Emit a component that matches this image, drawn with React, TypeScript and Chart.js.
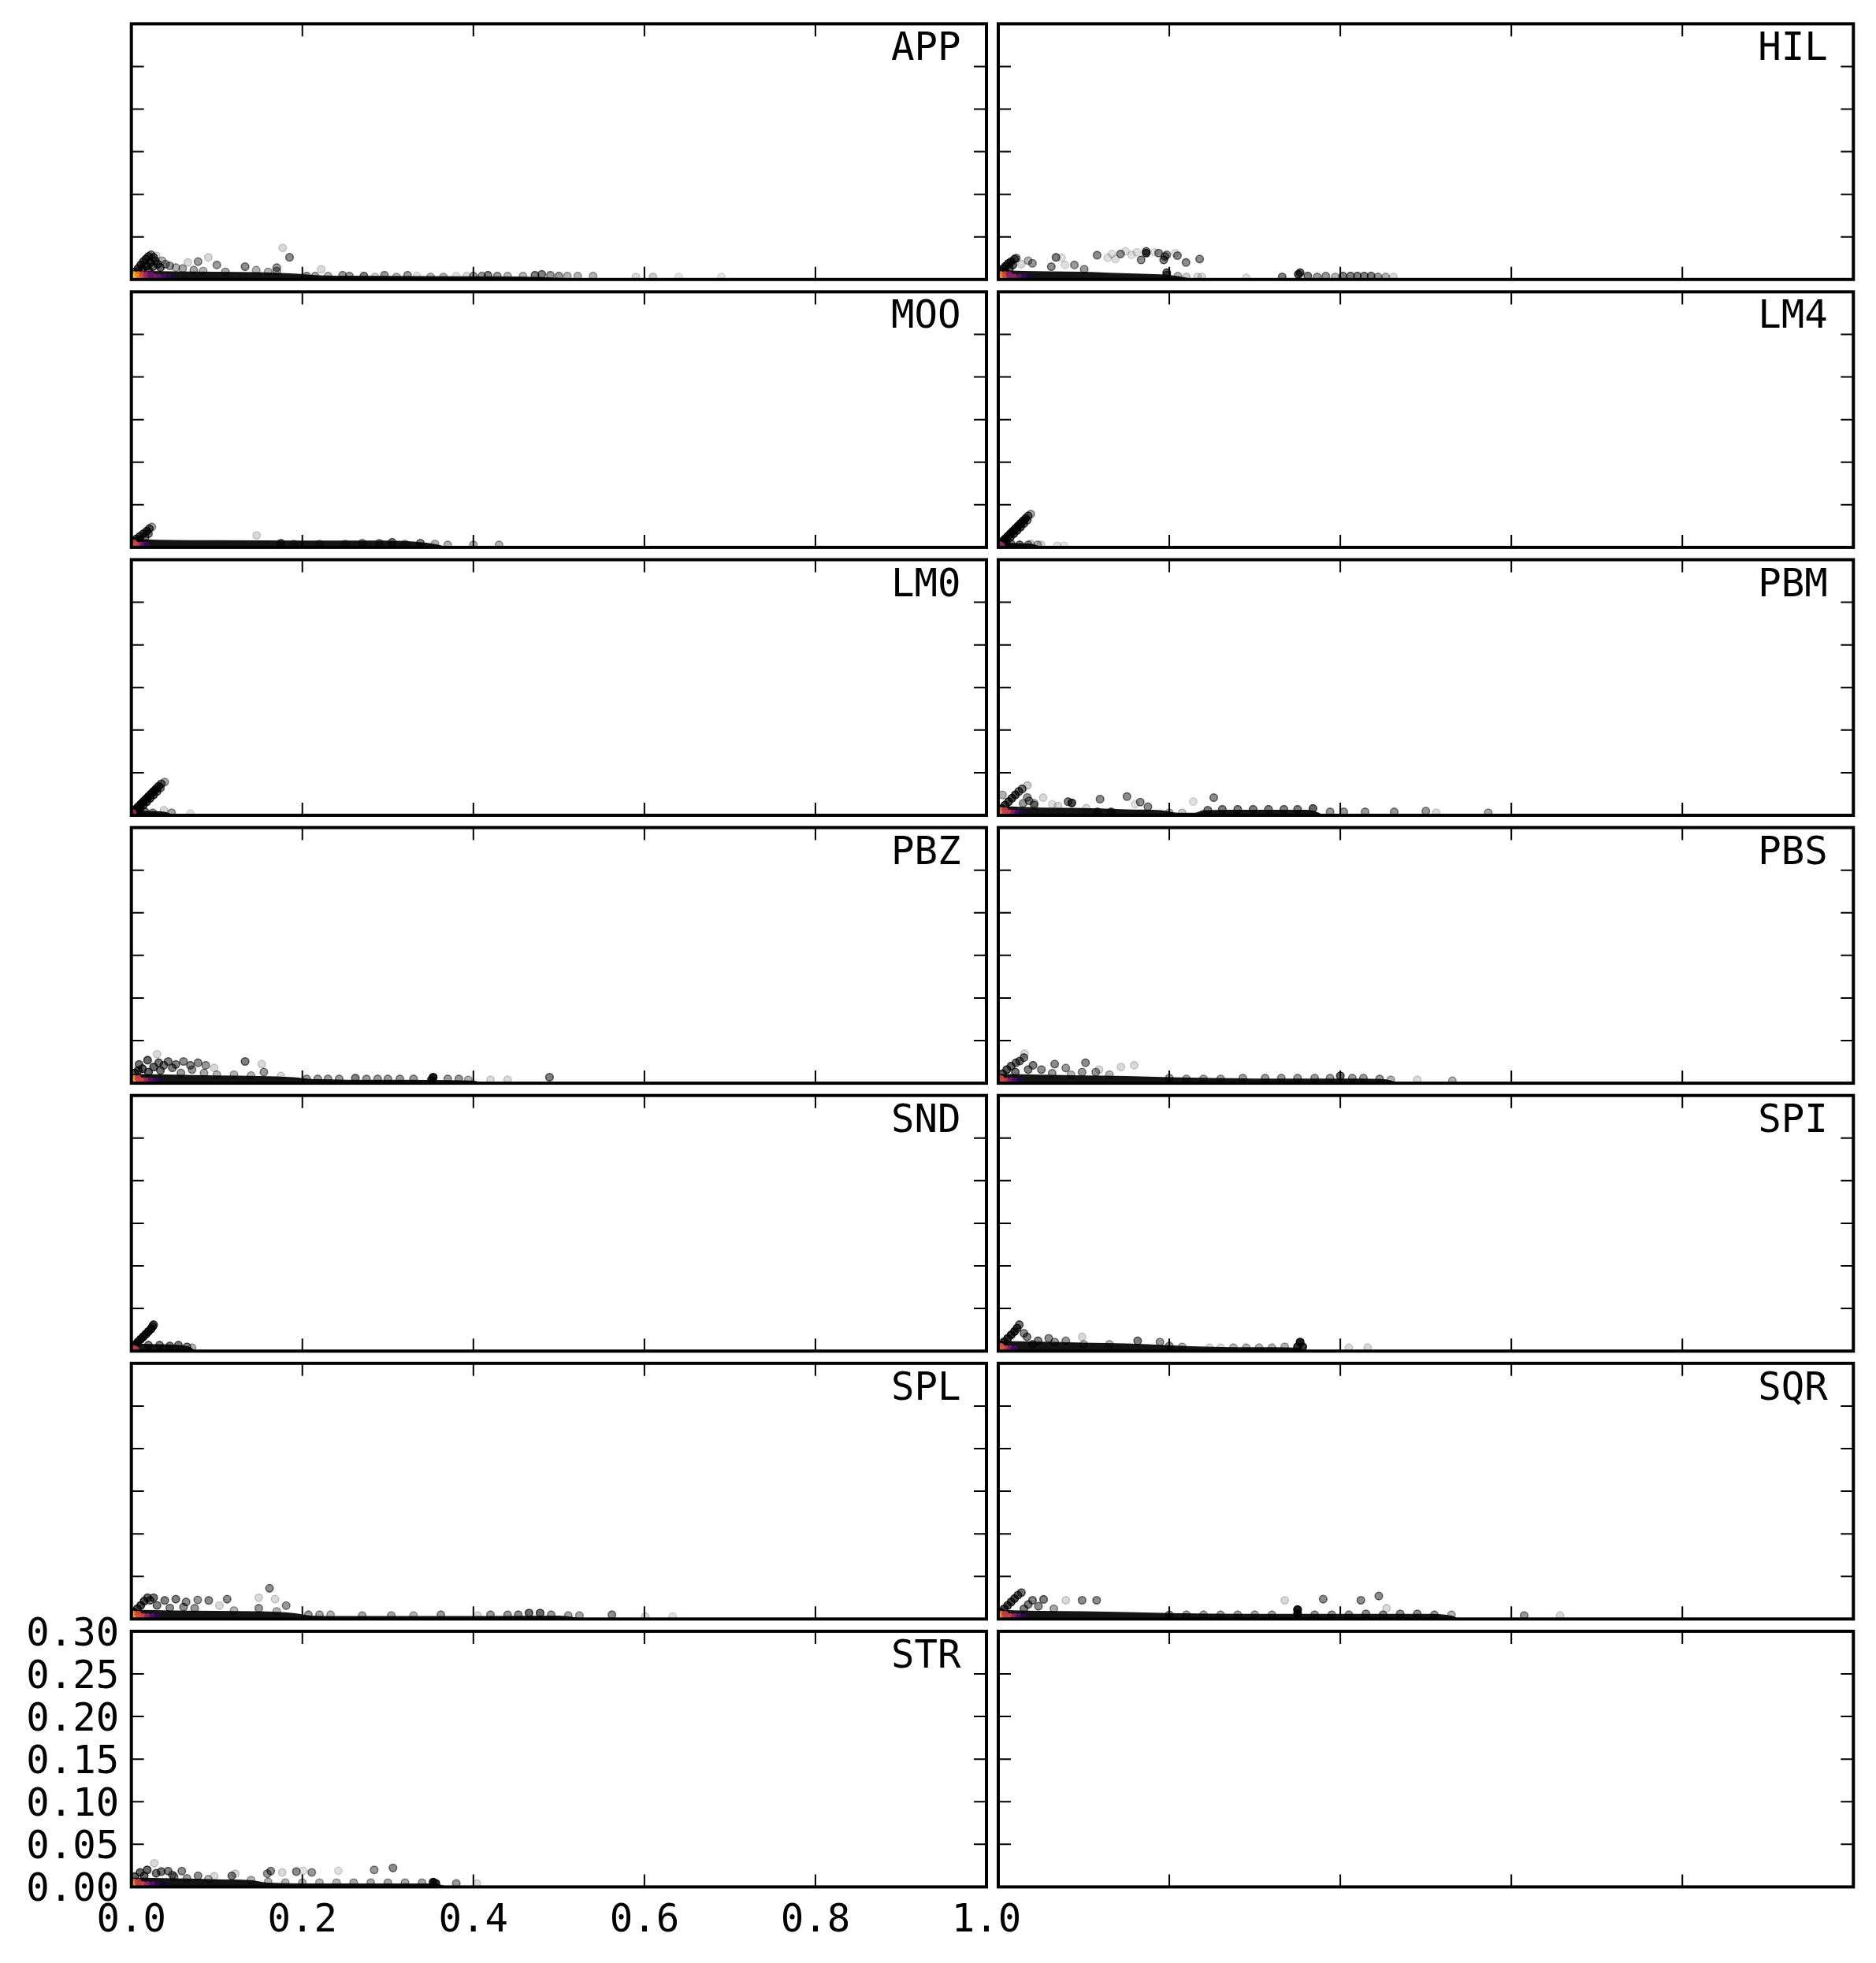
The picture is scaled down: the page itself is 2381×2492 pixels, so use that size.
import React, { useEffect, useRef } from 'react';
import { Chart, registerables } from 'chart.js';
Chart.register(...registerables);

// ---------- axes ----------
const X_TICKS = [0, 0.2, 0.4, 0.6, 0.8, 1.0];
const X_TICK_LABELS = ['0.0', '0.2', '0.4', '0.6', '0.8', '1.0'];
const Y_TICKS = [0, 0.05, 0.1, 0.15, 0.2, 0.25, 0.3];
const Y_TICK_LABELS = ['0.00', '0.05', '0.10', '0.15', '0.20', '0.25', '0.30'];
const PANEL_NAMES = ['APP', 'HIL', 'MOO', 'LM4', 'LM0', 'PBM', 'PBZ', 'PBS', 'SND', 'SPI', 'SPL', 'SQR', 'STR', ''];

// ---------- data: [x, y, alpha] points, [x, top] dense band, [x, y, density] hot points ----------
const APP_BAND = [[0, 0.011], [0.02, 0.010], [0.05, 0.0095], [0.10, 0.009], [0.15, 0.0085], [0.19, 0.007], [0.22, 0.005], [0.26, 0.0045], [0.35, 0.004], [0.45, 0.0035], [0.50, 0.002], [0.53, 0]];
const APP_POINTS = [
  [0.004, 0.009, 0.7], [0.008, 0.013, 0.7], [0.011, 0.017, 0.7], [0.014, 0.021, 0.7], [0.017, 0.024, 0.7], [0.020, 0.027, 0.65], [0.023, 0.029, 0.5], [0.026, 0.026, 0.6], [0.028, 0.022, 0.6], [0.031, 0.018, 0.6], [0.034, 0.014, 0.6], [0.013, 0.012, 0.7], [0.018, 0.016, 0.7], [0.022, 0.020, 0.7], [0.025, 0.015, 0.6], [0.020, 0.011, 0.6],
  [0.177, 0.037, 0.15], [0.185, 0.026, 0.45], [0.090, 0.026, 0.15], [0.078, 0.021, 0.4], [0.100, 0.017, 0.4], [0.133, 0.015, 0.45], [0.066, 0.020, 0.15], [0.040, 0.018, 0.4], [0.045, 0.016, 0.4], [0.060, 0.013, 0.35], [0.073, 0.011, 0.35], [0.084, 0.010, 0.3], [0.170, 0.014, 0.4], [0.170, 0.010, 0.4], [0.222, 0.012, 0.15], [0.029, 0.028, 0.15], [0.110, 0.009, 0.35], [0.036, 0.022, 0.3], [0.052, 0.014, 0.3], [0.146, 0.011, 0.3], [0.160, 0.009, 0.3],
  [0.205, 0.004, 0.4], [0.215, 0.004, 0.35], [0.230, 0.004, 0.3], [0.247, 0.005, 0.4], [0.255, 0.004, 0.4], [0.272, 0.004, 0.5], [0.285, 0.003, 0.2], [0.296, 0.005, 0.4], [0.310, 0.003, 0.3], [0.323, 0.005, 0.4], [0.334, 0.004, 0.12], [0.350, 0.003, 0.3], [0.365, 0.003, 0.3], [0.380, 0.004, 0.12], [0.392, 0.004, 0.15], [0.400, 0.004, 0.4], [0.410, 0.004, 0.4], [0.417, 0.005, 0.5], [0.428, 0.004, 0.4], [0.440, 0.004, 0.3], [0.458, 0.004, 0.3], [0.472, 0.005, 0.5], [0.480, 0.006, 0.5], [0.490, 0.005, 0.4], [0.500, 0.004, 0.4], [0.510, 0.004, 0.3], [0.522, 0.004, 0.3], [0.540, 0.004, 0.3], [0.590, 0.003, 0.15], [0.610, 0.003, 0.2], [0.640, 0.003, 0.1], [0.690, 0.003, 0.1],
];
const APP_HOT = [[0.002, 0.0025, 1.0], [0.006, 0.0025, 0.92], [0.010, 0.0025, 0.82], [0.014, 0.0025, 0.72], [0.018, 0.0025, 0.6], [0.022, 0.0025, 0.5], [0.027, 0.0025, 0.4], [0.032, 0.0025, 0.3], [0.038, 0.0025, 0.22], [0.044, 0.0025, 0.15], [0.050, 0.0025, 0.1], [0.003, 0.0055, 0.85], [0.008, 0.0055, 0.72], [0.013, 0.0055, 0.55], [0.018, 0.0055, 0.4], [0.023, 0.0055, 0.28]];

const HIL_BAND = [[0, 0.011], [0.03, 0.010], [0.06, 0.0095], [0.10, 0.009], [0.13, 0.008], [0.16, 0.007], [0.19, 0.006], [0.21, 0.004], [0.23, 0]];
const HIL_POINTS = [
  [0.003, 0.010, 0.7], [0.006, 0.013, 0.7], [0.009, 0.016, 0.7], [0.012, 0.019, 0.7], [0.015, 0.021, 0.7], [0.019, 0.024, 0.6], [0.021, 0.025, 0.5], [0.008, 0.009, 0.7], [0.013, 0.013, 0.6], [0.017, 0.017, 0.6],
  [0.035, 0.022, 0.3], [0.040, 0.019, 0.4], [0.0675, 0.026, 0.5], [0.074, 0.0255, 0.12], [0.062, 0.015, 0.45], [0.078, 0.017, 0.12], [0.089, 0.017, 0.4], [0.1005, 0.012, 0.4], [0.1155, 0.0285, 0.45], [0.128, 0.0255, 0.12], [0.133, 0.030, 0.12], [0.137, 0.024, 0.12], [0.143, 0.030, 0.45], [0.149, 0.033, 0.12], [0.156, 0.029, 0.12], [0.162, 0.032, 0.12], [0.173, 0.031, 0.7], [0.173, 0.033, 0.5], [0.167, 0.023, 0.45], [0.183, 0.032, 0.12], [0.1875, 0.031, 0.45], [0.195, 0.027, 0.5], [0.197, 0.029, 0.4], [0.1935, 0.023, 0.5], [0.207, 0.031, 0.12], [0.2095, 0.028, 0.45], [0.2195, 0.020, 0.45], [0.2355, 0.024, 0.45], [0.027, 0.018, 0.15],
  [0.233, 0.003, 0.15], [0.238, 0.003, 0.15], [0.197, 0.008, 0.6], [0.197, 0.005, 0.5], [0.21, 0.004, 0.3], [0.22, 0.003, 0.2], [0.29, 0.002, 0.12], [0.332, 0.003, 0.5], [0.351, 0.006, 0.7], [0.353, 0.008, 0.6], [0.362, 0.004, 0.5], [0.373, 0.003, 0.4], [0.383, 0.004, 0.4], [0.394, 0.003, 0.3], [0.403, 0.004, 0.5], [0.412, 0.004, 0.5], [0.420, 0.004, 0.5], [0.428, 0.004, 0.5], [0.436, 0.004, 0.5], [0.444, 0.003, 0.4], [0.453, 0.003, 0.3], [0.462, 0.003, 0.15],
];
const HIL_HOT = [[0.002, 0.0025, 1.0], [0.006, 0.0025, 0.88], [0.010, 0.0025, 0.72], [0.014, 0.0025, 0.55], [0.019, 0.0025, 0.4], [0.025, 0.0025, 0.28], [0.031, 0.0025, 0.18], [0.037, 0.0025, 0.1], [0.003, 0.0055, 0.75], [0.008, 0.0055, 0.55], [0.013, 0.0055, 0.35]];

const MOO_BAND = [[0, 0.010], [0.03, 0.009], [0.10, 0.0085], [0.20, 0.008], [0.30, 0.008], [0.34, 0.006], [0.36, 0.003], [0.37, 0]];
const MOO_POINTS = [
  [0.003, 0.007, 0.7], [0.006, 0.010, 0.7], [0.010, 0.013, 0.7], [0.014, 0.016, 0.7], [0.018, 0.019, 0.7], [0.021, 0.022, 0.6], [0.024, 0.024, 0.35], [0.010, 0.008, 0.6], [0.016, 0.012, 0.5], [0.020, 0.016, 0.5],
  [0.1465, 0.014, 0.15],
  [0.175, 0.005, 0.5], [0.190, 0.004, 0.3], [0.220, 0.004, 0.3], [0.250, 0.004, 0.3], [0.270, 0.005, 0.4], [0.290, 0.005, 0.4], [0.305, 0.006, 0.5], [0.320, 0.004, 0.3], [0.338, 0.005, 0.5], [0.355, 0.004, 0.3], [0.370, 0.003, 0.3], [0.400, 0.003, 0.3], [0.430, 0.003, 0.3],
];
const MOO_HOT = [[0.002, 0.0025, 0.78], [0.006, 0.0025, 0.62], [0.010, 0.0025, 0.45], [0.014, 0.0025, 0.3], [0.018, 0.0025, 0.18], [0.003, 0.005, 0.55]];

const LM4_BAND = [[0, 0.006], [0.02, 0.005], [0.04, 0.004], [0.05, 0]];
const LM4_POINTS = [
  [0.002, 0.004, 0.8], [0.005, 0.007, 0.8], [0.008, 0.010, 0.8], [0.011, 0.013, 0.8], [0.014, 0.016, 0.8], [0.017, 0.019, 0.8], [0.020, 0.022, 0.8], [0.023, 0.025, 0.8], [0.026, 0.028, 0.8], [0.029, 0.031, 0.75], [0.032, 0.034, 0.7], [0.035, 0.037, 0.55], [0.038, 0.039, 0.35],
  [0.006, 0.005, 0.7], [0.010, 0.008, 0.7], [0.014, 0.012, 0.7], [0.018, 0.016, 0.7], [0.022, 0.020, 0.7], [0.026, 0.024, 0.7], [0.030, 0.028, 0.6], [0.034, 0.032, 0.5],
  [0.008, 0.004, 0.6], [0.015, 0.004, 0.5], [0.025, 0.003, 0.5], [0.035, 0.003, 0.4], [0.038, 0.004, 0.2], [0.046, 0.003, 0.3], [0.050, 0.003, 0.15], [0.069, 0.002, 0.12], [0.077, 0.002, 0.1],
];
const LM4_HOT = [[0.002, 0.003, 0.45], [0.004, 0.002, 0.4]];

const LM0_BAND = [[0, 0.006], [0.02, 0.005], [0.04, 0.004], [0.05, 0]];
const LM0_POINTS = [
  [0.002, 0.004, 0.8], [0.005, 0.007, 0.8], [0.008, 0.010, 0.8], [0.011, 0.013, 0.8], [0.014, 0.016, 0.8], [0.017, 0.019, 0.8], [0.020, 0.022, 0.8], [0.023, 0.025, 0.8], [0.026, 0.028, 0.8], [0.029, 0.031, 0.75], [0.032, 0.034, 0.7], [0.035, 0.037, 0.55], [0.039, 0.039, 0.35],
  [0.006, 0.005, 0.7], [0.010, 0.008, 0.7], [0.014, 0.012, 0.7], [0.018, 0.016, 0.7], [0.022, 0.020, 0.7], [0.026, 0.024, 0.7], [0.030, 0.028, 0.6], [0.034, 0.032, 0.5],
  [0.008, 0.004, 0.6], [0.016, 0.004, 0.5], [0.025, 0.003, 0.4], [0.038, 0.006, 0.15], [0.047, 0.003, 0.35], [0.069, 0.002, 0.12],
];
const LM0_HOT = [[0.002, 0.003, 0.42]];

const PBM_BAND = [[0, 0.011], [0.05, 0.009], [0.10, 0.0085], [0.15, 0.007], [0.19, 0.006], [0.21, 0.003], [0.23, 0.003], [0.24, 0.006], [0.30, 0.0065], [0.36, 0.0065], [0.375, 0.003], [0.38, 0]];
const PBM_POINTS = [
  [0.004, 0.008, 0.7], [0.008, 0.012, 0.7], [0.012, 0.016, 0.7], [0.016, 0.020, 0.7], [0.020, 0.024, 0.7], [0.024, 0.028, 0.6], [0.028, 0.031, 0.55], [0.034, 0.035, 0.2],
  [0.005, 0.024, 0.3], [0.034, 0.021, 0.4], [0.036, 0.017, 0.45], [0.029, 0.014, 0.4], [0.0525, 0.0207, 0.15], [0.063, 0.013, 0.12], [0.042, 0.012, 0.4], [0.042, 0.014, 0.35], [0.0816, 0.016, 0.5], [0.086, 0.0145, 0.7], [0.103, 0.0084, 0.15], [0.119, 0.019, 0.45], [0.1505, 0.022, 0.45], [0.166, 0.0155, 0.45], [0.175, 0.010, 0.45], [0.160, 0.013, 0.12], [0.228, 0.016, 0.12], [0.252, 0.0207, 0.45], [0.070, 0.011, 0.15], [0.116, 0.004, 0.5], [0.132, 0.004, 0.5],
  [0.245, 0.006, 0.5], [0.262, 0.007, 0.5], [0.280, 0.007, 0.5], [0.298, 0.007, 0.5], [0.316, 0.007, 0.5], [0.334, 0.007, 0.5], [0.350, 0.007, 0.5],
  [0.368, 0.008, 0.6], [0.200, 0.003, 0.3], [0.215, 0.003, 0.2], [0.388, 0.004, 0.4], [0.404, 0.004, 0.4], [0.429, 0.004, 0.4], [0.463, 0.004, 0.4], [0.500, 0.005, 0.4], [0.512, 0.003, 0.15], [0.573, 0.003, 0.35],
];
const PBM_HOT = [[0.002, 0.0025, 1.0], [0.006, 0.0025, 0.85], [0.010, 0.0025, 0.7], [0.014, 0.0025, 0.52], [0.018, 0.0025, 0.36], [0.023, 0.0025, 0.22], [0.028, 0.0025, 0.12], [0.003, 0.0055, 0.7], [0.008, 0.0055, 0.5]];

const PBZ_BAND = [[0, 0.011], [0.05, 0.010], [0.10, 0.009], [0.15, 0.0085], [0.19, 0.007], [0.21, 0.005], [0.30, 0.004], [0.40, 0.003], [0.41, 0]];
const PBZ_POINTS = [
  [0.009, 0.022, 0.55], [0.019, 0.027, 0.6], [0.032, 0.024, 0.55], [0.043, 0.0255, 0.5], [0.052, 0.022, 0.5], [0.061, 0.0255, 0.45], [0.069, 0.021, 0.45], [0.078, 0.024, 0.45], [0.087, 0.021, 0.4], [0.048, 0.018, 0.5], [0.026, 0.019, 0.6], [0.071, 0.016, 0.4], [0.097, 0.018, 0.15], [0.030, 0.034, 0.15], [0.013, 0.017, 0.65], [0.004, 0.012, 0.65], [0.008, 0.015, 0.65], [0.038, 0.021, 0.5], [0.058, 0.012, 0.4], [0.085, 0.012, 0.35], [0.100, 0.010, 0.3], [0.020, 0.013, 0.6], [0.034, 0.015, 0.55],
  [0.133, 0.0255, 0.5], [0.1525, 0.0224, 0.15], [0.155, 0.013, 0.4], [0.175, 0.0086, 0.15], [0.120, 0.010, 0.3], [0.140, 0.009, 0.3],
  [0.205, 0.005, 0.4], [0.218, 0.005, 0.4], [0.230, 0.005, 0.4], [0.243, 0.005, 0.4], [0.262, 0.006, 0.5], [0.275, 0.005, 0.4], [0.288, 0.005, 0.4], [0.300, 0.005, 0.4], [0.314, 0.005, 0.4], [0.330, 0.005, 0.4], [0.353, 0.007, 0.9], [0.351, 0.004, 0.7], [0.370, 0.005, 0.4], [0.383, 0.005, 0.4], [0.394, 0.004, 0.3], [0.420, 0.004, 0.15], [0.440, 0.004, 0.15], [0.489, 0.007, 0.5],
];
const PBZ_HOT = [[0.002, 0.0025, 1.0], [0.006, 0.0025, 0.88], [0.010, 0.0025, 0.74], [0.014, 0.0025, 0.58], [0.018, 0.0025, 0.42], [0.023, 0.0025, 0.28], [0.029, 0.0025, 0.18], [0.035, 0.0025, 0.1], [0.003, 0.0055, 0.75], [0.008, 0.0055, 0.52]];

const PBS_BAND = [[0, 0.011], [0.05, 0.010], [0.10, 0.009], [0.15, 0.0085], [0.20, 0.007], [0.25, 0.006], [0.30, 0.0055], [0.40, 0.0055], [0.45, 0.005], [0.47, 0]];
const PBS_POINTS = [
  [0.0207, 0.024, 0.55], [0.030, 0.030, 0.5], [0.0307, 0.0347, 0.15], [0.0406, 0.021, 0.5], [0.066, 0.0224, 0.45], [0.079, 0.0178, 0.4], [0.102, 0.024, 0.45], [0.118, 0.016, 0.15], [0.1435, 0.019, 0.15], [0.159, 0.021, 0.15], [0.114, 0.013, 0.4], [0.098, 0.013, 0.4], [0.0504, 0.016, 0.45], [0.063, 0.0117, 0.4], [0.010, 0.016, 0.65], [0.015, 0.020, 0.6], [0.025, 0.026, 0.55], [0.005, 0.011, 0.65], [0.020, 0.013, 0.55], [0.035, 0.016, 0.5], [0.085, 0.010, 0.3], [0.130, 0.010, 0.3],
  [0.200, 0.006, 0.4], [0.220, 0.005, 0.35], [0.240, 0.005, 0.35], [0.260, 0.005, 0.35], [0.286, 0.006, 0.4], [0.312, 0.006, 0.4], [0.331, 0.006, 0.4], [0.350, 0.006, 0.4], [0.370, 0.006, 0.4], [0.388, 0.006, 0.4], [0.400, 0.0086, 0.6], [0.414, 0.006, 0.4], [0.427, 0.006, 0.4], [0.446, 0.005, 0.4], [0.459, 0.004, 0.3], [0.490, 0.004, 0.15], [0.531, 0.003, 0.3],
];
const PBS_HOT = [[0.002, 0.0025, 0.8], [0.006, 0.0025, 0.65], [0.010, 0.0025, 0.5], [0.015, 0.0025, 0.35], [0.020, 0.0025, 0.22], [0.026, 0.0025, 0.12], [0.003, 0.0055, 0.55]];

const SND_BAND = [[0, 0.009], [0.03, 0.008], [0.06, 0.007], [0.07, 0.004], [0.075, 0]];
const SND_POINTS = [
  [0.002, 0.005, 0.8], [0.005, 0.008, 0.8], [0.008, 0.011, 0.8], [0.011, 0.014, 0.8], [0.014, 0.017, 0.8], [0.017, 0.020, 0.8], [0.020, 0.023, 0.8], [0.023, 0.026, 0.8], [0.025, 0.029, 0.7], [0.026, 0.031, 0.6],
  [0.020, 0.007, 0.5], [0.033, 0.007, 0.5], [0.045, 0.006, 0.5], [0.055, 0.007, 0.5], [0.065, 0.005, 0.5], [0.071, 0.004, 0.3],
];
const SND_HOT = [[0.002, 0.003, 0.55], [0.005, 0.002, 0.5]];

const SPI_BAND = [[0, 0.012], [0.05, 0.011], [0.10, 0.010], [0.15, 0.009], [0.20, 0.007], [0.25, 0.005], [0.30, 0.0045], [0.35, 0.004], [0.36, 0]];
const SPI_POINTS = [
  [0.003, 0.007, 0.8], [0.007, 0.011, 0.8], [0.011, 0.015, 0.8], [0.015, 0.019, 0.8], [0.019, 0.023, 0.8], [0.022, 0.027, 0.7], [0.0246, 0.031, 0.55],
  [0.098, 0.0167, 0.15], [0.0336, 0.0167, 0.5], [0.0465, 0.012, 0.5], [0.059, 0.015, 0.45], [0.079, 0.012, 0.4], [0.030, 0.021, 0.45], [0.066, 0.0106, 0.4], [0.163, 0.012, 0.5], [0.189, 0.0106, 0.4], [0.040, 0.008, 0.5], [0.100, 0.008, 0.3], [0.130, 0.008, 0.3],
  [0.200, 0.006, 0.4], [0.215, 0.005, 0.3], [0.247, 0.004, 0.15], [0.260, 0.004, 0.15], [0.275, 0.004, 0.3], [0.290, 0.004, 0.3], [0.305, 0.004, 0.3], [0.320, 0.004, 0.3], [0.335, 0.005, 0.3], [0.353, 0.0106, 0.9], [0.350, 0.005, 0.8], [0.356, 0.005, 0.8], [0.410, 0.004, 0.15], [0.432, 0.004, 0.15],
];
const SPI_HOT = [[0.002, 0.0025, 0.85], [0.006, 0.0025, 0.7], [0.010, 0.0025, 0.5], [0.014, 0.0025, 0.35], [0.019, 0.0025, 0.2], [0.003, 0.0055, 0.6]];

const SPL_BAND = [[0, 0.011], [0.05, 0.010], [0.10, 0.0095], [0.15, 0.009], [0.19, 0.007], [0.21, 0.004], [0.25, 0.0035], [0.40, 0.0035], [0.50, 0.004], [0.53, 0]];
const SPL_POINTS = [
  [0.003, 0.008, 0.7], [0.007, 0.012, 0.7], [0.011, 0.016, 0.7], [0.015, 0.021, 0.7], [0.019, 0.025, 0.6], [0.022, 0.022, 0.55],
  [0.1616, 0.036, 0.45], [0.149, 0.025, 0.15], [0.168, 0.0233, 0.15], [0.181, 0.0157, 0.4], [0.149, 0.0126, 0.4], [0.112, 0.0233, 0.45], [0.0905, 0.0218, 0.45], [0.0776, 0.0224, 0.4], [0.064, 0.020, 0.45], [0.052, 0.0233, 0.5], [0.039, 0.0218, 0.5], [0.026, 0.025, 0.55], [0.061, 0.014, 0.45], [0.103, 0.0157, 0.15], [0.074, 0.0126, 0.4], [0.030, 0.016, 0.5], [0.045, 0.013, 0.45], [0.120, 0.010, 0.3], [0.170, 0.009, 0.3],
  [0.207, 0.005, 0.4], [0.220, 0.005, 0.35], [0.233, 0.005, 0.3], [0.270, 0.004, 0.35], [0.304, 0.004, 0.35], [0.330, 0.004, 0.3], [0.362, 0.005, 0.4], [0.405, 0.004, 0.15], [0.420, 0.005, 0.4], [0.440, 0.005, 0.4], [0.4525, 0.005, 0.45], [0.465, 0.007, 0.6], [0.478, 0.007, 0.6], [0.491, 0.005, 0.4], [0.511, 0.004, 0.35], [0.524, 0.004, 0.35], [0.562, 0.005, 0.45], [0.601, 0.003, 0.15], [0.633, 0.003, 0.12],
];
const SPL_HOT = [[0.002, 0.0025, 1.0], [0.006, 0.0025, 0.88], [0.010, 0.0025, 0.72], [0.014, 0.0025, 0.55], [0.019, 0.0025, 0.38], [0.025, 0.0025, 0.24], [0.031, 0.0025, 0.14], [0.003, 0.0055, 0.75], [0.008, 0.0055, 0.55]];

const SQR_BAND = [[0, 0.011], [0.05, 0.0095], [0.10, 0.009], [0.20, 0.007], [0.30, 0.006], [0.40, 0.006], [0.50, 0.006], [0.53, 0.004], [0.54, 0]];
const SQR_POINTS = [
  [0.003, 0.008, 0.7], [0.007, 0.012, 0.7], [0.011, 0.016, 0.7], [0.015, 0.020, 0.7], [0.019, 0.024, 0.7], [0.023, 0.028, 0.6], [0.027, 0.031, 0.55],
  [0.040, 0.022, 0.5], [0.053, 0.023, 0.5], [0.079, 0.022, 0.15], [0.098, 0.022, 0.45], [0.115, 0.022, 0.45], [0.035, 0.017, 0.5], [0.047, 0.015, 0.45], [0.030, 0.012, 0.5], [0.065, 0.012, 0.35],
  [0.335, 0.022, 0.15], [0.380, 0.0233, 0.45], [0.424, 0.022, 0.45], [0.445, 0.027, 0.45], [0.454, 0.0126, 0.15],
  [0.200, 0.005, 0.4], [0.220, 0.005, 0.35], [0.240, 0.005, 0.35], [0.260, 0.005, 0.35], [0.280, 0.005, 0.35], [0.300, 0.005, 0.35], [0.320, 0.005, 0.35], [0.350, 0.011, 0.9], [0.350, 0.006, 0.9], [0.370, 0.005, 0.4], [0.390, 0.005, 0.4], [0.410, 0.005, 0.4], [0.430, 0.006, 0.45], [0.450, 0.005, 0.45], [0.470, 0.006, 0.45], [0.490, 0.006, 0.45], [0.510, 0.005, 0.4], [0.530, 0.005, 0.3], [0.615, 0.004, 0.4], [0.657, 0.004, 0.15],
];
const SQR_HOT = [[0.002, 0.0025, 1.0], [0.006, 0.0025, 0.88], [0.010, 0.0025, 0.72], [0.014, 0.0025, 0.55], [0.019, 0.0025, 0.4], [0.024, 0.0025, 0.26], [0.030, 0.0025, 0.15], [0.003, 0.0055, 0.72], [0.008, 0.0055, 0.5]];

const STR_BAND = [[0, 0.011], [0.05, 0.010], [0.10, 0.009], [0.14, 0.008], [0.16, 0.005], [0.25, 0.004], [0.34, 0.004], [0.36, 0.003], [0.37, 0]];
const STR_POINTS = [
  [0.0268, 0.0278, 0.15], [0.0103, 0.017, 0.6], [0.0186, 0.020, 0.6], [0.029, 0.016, 0.55], [0.035, 0.018, 0.55], [0.043, 0.0186, 0.5], [0.059, 0.0186, 0.45], [0.078, 0.013, 0.45], [0.097, 0.0125, 0.15], [0.1175, 0.013, 0.5], [0.1216, 0.0155, 0.15], [0.159, 0.0155, 0.4], [0.163, 0.0186, 0.45], [0.1765, 0.017, 0.15], [0.193, 0.018, 0.45], [0.201, 0.019, 0.12], [0.211, 0.017, 0.4], [0.242, 0.019, 0.12], [0.284, 0.020, 0.4], [0.306, 0.0223, 0.45], [0.004, 0.012, 0.6], [0.015, 0.013, 0.6], [0.050, 0.012, 0.45], [0.065, 0.010, 0.4], [0.090, 0.009, 0.3], [0.140, 0.008, 0.3], [0.048, 0.014, 0.45],
  [0.160, 0.006, 0.3], [0.180, 0.005, 0.3], [0.200, 0.005, 0.3], [0.220, 0.005, 0.3], [0.240, 0.005, 0.3], [0.260, 0.005, 0.35], [0.280, 0.005, 0.35], [0.300, 0.005, 0.35], [0.320, 0.005, 0.35], [0.340, 0.005, 0.35], [0.353, 0.0055, 0.9], [0.356, 0.004, 0.8], [0.380, 0.004, 0.4], [0.404, 0.004, 0.15],
];
const STR_HOT = [[0.002, 0.0025, 1.0], [0.006, 0.0025, 0.88], [0.010, 0.0025, 0.72], [0.014, 0.0025, 0.55], [0.019, 0.0025, 0.4], [0.025, 0.0025, 0.26], [0.031, 0.0025, 0.15], [0.037, 0.0025, 0.08], [0.003, 0.0055, 0.72], [0.008, 0.0055, 0.5]];

const EMPTY: number[][] = [];

const PANELS = [
  { band: APP_BAND, pts: APP_POINTS, hot: APP_HOT },
  { band: HIL_BAND, pts: HIL_POINTS, hot: HIL_HOT },
  { band: MOO_BAND, pts: MOO_POINTS, hot: MOO_HOT },
  { band: LM4_BAND, pts: LM4_POINTS, hot: LM4_HOT },
  { band: LM0_BAND, pts: LM0_POINTS, hot: LM0_HOT },
  { band: PBM_BAND, pts: PBM_POINTS, hot: PBM_HOT },
  { band: PBZ_BAND, pts: PBZ_POINTS, hot: PBZ_HOT },
  { band: PBS_BAND, pts: PBS_POINTS, hot: PBS_HOT },
  { band: SND_BAND, pts: SND_POINTS, hot: SND_HOT },
  { band: SPI_BAND, pts: SPI_POINTS, hot: SPI_HOT },
  { band: SPL_BAND, pts: SPL_POINTS, hot: SPL_HOT },
  { band: SQR_BAND, pts: SQR_POINTS, hot: SQR_HOT },
  { band: STR_BAND, pts: STR_POINTS, hot: STR_HOT },
  { band: EMPTY, pts: EMPTY, hot: EMPTY },
];

// ---------- styling ----------
const INFERNO = ['#000004', '#160b39', '#420a68', '#6a176e', '#932667', '#bc3754', '#dd513a', '#f37819', '#fca50a', '#f6d746', '#fcffa4'];
function inferno(level: number, alpha: number) {
  const t = Math.max(0, Math.min(1, level)) * (INFERNO.length - 1);
  const i = Math.min(INFERNO.length - 2, Math.floor(t));
  const f = t - i;
  const a = INFERNO[i], b = INFERNO[i + 1];
  const c = (s: string, k: number) => parseInt(s.slice(1 + 2 * k, 3 + 2 * k), 16);
  const r = Math.round(c(a, 0) + (c(b, 0) - c(a, 0)) * f);
  const g = Math.round(c(a, 1) + (c(b, 1) - c(a, 1)) * f);
  const bl = Math.round(c(a, 2) + (c(b, 2) - c(a, 2)) * f);
  return `rgba(${r},${g},${bl},${alpha})`;
}

const FONT = '"DejaVu Sans Mono", "Liberation Mono", monospace';
const FONT_SIZE = 49;
const COL_LEFT = [166.7, 1267.0];
const PANEL_W = 1085.3;
const PANEL_H = 324.5;
const ROW0_BOTTOM = 354.8;
const ROW_PITCH = 340.1;

function Panel({ index }: { index: number }) {
  const ref = useRef<HTMLCanvasElement | null>(null);
  const col = index % 2;
  const row = Math.floor(index / 2);
  const L = COL_LEFT[col];
  const B = ROW0_BOTTOM + row * ROW_PITCH;
  const T = B - PANEL_H;
  const R = L + PANEL_W;
  const showLabels = index === 12;
  const cl = showLabels ? 0 : Math.floor(L) - 12;
  const ct = Math.floor(T) - (showLabels ? 40 : 12);
  const cr = Math.ceil(R) + (showLabels ? 60 : 12);
  const cb = Math.ceil(B) + (showLabels ? 80 : 12);
  const cw = cr - cl;
  const ch = cb - ct;

  useEffect(() => {
    const canvas = ref.current;
    if (!canvas) return;
    const p = PANELS[index];
    const name = PANEL_NAMES[index];
    const frame = {
      id: 'frame',
      afterDraw(chart: any) {
        const { ctx, chartArea, scales } = chart;
        const { left, top, right, bottom } = chartArea;
        const xs = scales.x, ys = scales.y;
        ctx.save();
        ctx.strokeStyle = '#000';
        ctx.lineWidth = 2;
        ctx.beginPath();
        for (const v of X_TICKS) {
          const px = xs.getPixelForValue(v);
          ctx.moveTo(px, bottom); ctx.lineTo(px, bottom - 16);
          ctx.moveTo(px, top); ctx.lineTo(px, top + 16);
        }
        for (const v of Y_TICKS) {
          const py = ys.getPixelForValue(v);
          ctx.moveTo(left, py); ctx.lineTo(left + 16, py);
          ctx.moveTo(right, py); ctx.lineTo(right - 16, py);
        }
        ctx.stroke();
        ctx.lineWidth = 4;
        ctx.strokeRect(left, top, right - left, bottom - top);
        ctx.fillStyle = '#000';
        ctx.font = `${FONT_SIZE}px ${FONT}`;
        if (name) {
          ctx.textAlign = 'right';
          ctx.textBaseline = 'alphabetic';
          ctx.fillText(name, left + 0.97 * (right - left), top + 46);
        }
        if (showLabels) {
          ctx.textAlign = 'right';
          ctx.textBaseline = 'alphabetic';
          Y_TICKS.forEach((v, i) => {
            const py = ys.getPixelForValue(v);
            ctx.fillText(Y_TICK_LABELS[i], left - 15.5, py + 0.364 * FONT_SIZE);
          });
          ctx.textAlign = 'center';
          X_TICKS.forEach((v, i) => {
            const px = xs.getPixelForValue(v);
            ctx.fillText(X_TICK_LABELS[i], px, bottom + 56.3);
          });
        }
        ctx.restore();
      },
    };
    const chart = new Chart(canvas, {
      type: 'scatter',
      data: {
        datasets: [
          {
            type: 'line',
            data: p.band.map(([x, y]) => ({ x, y })),
            borderWidth: 0,
            borderColor: 'rgba(0,0,0,0)',
            pointRadius: 0,
            fill: 'origin',
            backgroundColor: 'rgba(0,0,0,0.92)',
            cubicInterpolationMode: 'monotone',
            clip: 0,
            order: 3,
          } as any,
          {
            data: p.pts.map(([x, y]) => ({ x, y })),
            pointRadius: 4.8,
            borderWidth: 1.6,
            backgroundColor: p.pts.map((q) => `rgba(0,0,0,${q[2]})`),
            borderColor: p.pts.map((q) => `rgba(0,0,0,${Math.min(1, q[2] * 1.2)})`),
            clip: 0,
            order: 2,
          } as any,
          {
            data: p.hot.map(([x, y]) => ({ x, y })),
            pointRadius: 4.5,
            borderWidth: 0,
            backgroundColor: p.hot.map((q) => inferno(q[2], 0.9)),
            clip: 0,
            order: 1,
          } as any,
        ],
      },
      options: {
        animation: false,
        responsive: false,
        events: [],
        layout: { padding: { left: L - cl, top: T - ct, right: cr - R, bottom: cb - B } },
        plugins: { legend: { display: false }, tooltip: { enabled: false } },
        scales: {
          x: { type: 'linear', min: 0, max: 1, display: false },
          y: { type: 'linear', min: 0, max: 0.3, display: false },
        },
      },
      plugins: [frame],
    });
    return () => chart.destroy();
  }, [index]);

  return (
    <canvas
      ref={ref}
      width={cw}
      height={ch}
      style={{ position: 'absolute', left: cl, top: ct, width: cw, height: ch }}
    />
  );
}

export default function App() {
  return (
    <div style={{ position: 'absolute', left: 0, top: 0, width: 2381, height: 2492, background: '#fff' }}>
      {PANEL_NAMES.map((_, i) => (
        <Panel key={i} index={i} />
      ))}
    </div>
  );
}
